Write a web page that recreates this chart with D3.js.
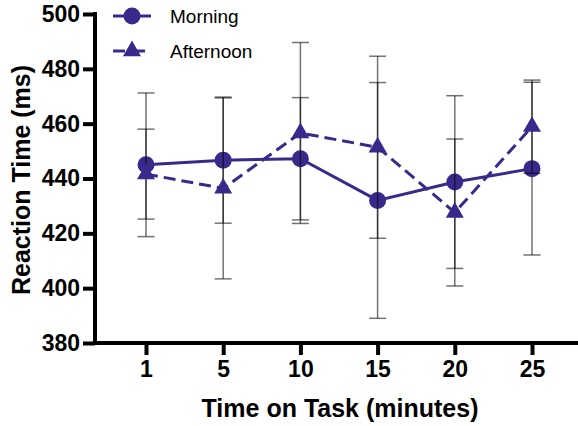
<!DOCTYPE html>
<html>
<head>
<meta charset="utf-8">
<script src="https://cdn.jsdelivr.net/npm/d3@7"></script>
<style>
  body { margin: 0; background: #fff; }
  svg { display: block; font-family: "Liberation Sans", Arial, sans-serif; }
</style>
</head>
<body>
<script>
// data
var times = ["1", "5", "10", "15", "20", "25"];
var seriesNames = ["Morning", "Afternoon"];
var morningMean = [445, 446.7, 447.2, 432, 438.7, 443.6];
var morningSD = [26.2, 23, 22.3, 43, 31.5, 31.5];
var afternoonMean = [441.6, 436.4, 456.6, 451.4, 427.6, 458.9];
var afternoonSD = [16.4, 33, 33, 33.2, 26.8, 17];
var yTicks = [380, 400, 420, 440, 460, 480, 500];

var svgWidth = 578;
var svgHeight = 426;
var purple = "#382a8b";

var svg = d3.select("body").append("svg")
  .attr("width", svgWidth)
  .attr("height", svgHeight);

var axisX = 95, axisY = 343;

var x = d3.scalePoint().domain(times).range([146, 532]);
var y = d3.scaleLinear().domain([380, 500]).range([axisY, 14]);

// y axis
var yAxis = svg.append("g")
  .attr("transform", "translate(" + axisX + ",0)")
  .call(d3.axisLeft(y).tickValues(yTicks).tickSize(12).tickSizeOuter(0).tickPadding(3));
yAxis.select(".domain").attr("stroke-width", 4).attr("d", "M0," + (axisY + 2) + "V" + 12);
yAxis.selectAll(".tick line").attr("stroke-width", 4);
yAxis.selectAll(".tick text")
  .attr("font-size", 23).attr("font-weight", "bold").attr("fill", "#000")
  .attr("font-family", "'Liberation Sans', Arial, sans-serif");

// x axis
var xAxis = svg.append("g")
  .attr("transform", "translate(0," + axisY + ")")
  .call(d3.axisBottom(x).tickSize(12).tickSizeOuter(0).tickPadding(6));
xAxis.select(".domain").attr("stroke-width", 4).attr("d", "M" + (axisX - 2) + ",0H" + svgWidth);
xAxis.selectAll(".tick line").attr("stroke-width", 4);
xAxis.selectAll(".tick text")
  .attr("font-size", 23).attr("font-weight", "bold").attr("fill", "#000")
  .attr("font-family", "'Liberation Sans', Arial, sans-serif");

// axis titles
svg.append("text")
  .attr("x", 340).attr("y", 417)
  .attr("text-anchor", "middle")
  .attr("font-size", 25).attr("font-weight", "bold")
  .text("Time on Task (minutes)");

svg.append("text")
  .attr("transform", "translate(30,180) rotate(-90)")
  .attr("text-anchor", "middle")
  .attr("font-size", 25).attr("font-weight", "bold")
  .text("Reaction Time (ms)");

var series = [
  { name: seriesNames[0], mean: morningMean, sd: morningSD, dash: null, shape: "circle" },
  { name: seriesNames[1], mean: afternoonMean, sd: afternoonSD, dash: "12,6", shape: "triangle" }
];

var line = d3.line()
  .x(function (d, i) { return x(times[i]); })
  .y(function (d) { return y(d); });

function drawMarker(g, shape, cx, cy) {
  if (shape == "circle") {
    g.append("circle").attr("cx", cx).attr("cy", cy).attr("r", 8.5).attr("fill", purple);
  } else {
    g.append("path")
      .attr("d", d3.symbol().type(d3.symbolTriangle).size(140)())
      .attr("transform", "translate(" + cx + "," + cy + ")")
      .attr("fill", purple);
  }
}

series.forEach(function (s) {
  var g = svg.append("g");
  // error bars
  s.mean.forEach(function (m, i) {
    var cx = x(times[i]);
    var eb = g.append("g").attr("stroke", "#000").attr("stroke-opacity", 0.55).attr("stroke-width", 1.5);
    eb.append("line").attr("x1", cx).attr("x2", cx).attr("y1", y(m - s.sd[i])).attr("y2", y(m + s.sd[i]));
    eb.append("line").attr("x1", cx - 8.5).attr("x2", cx + 8.5).attr("y1", y(m + s.sd[i])).attr("y2", y(m + s.sd[i]));
    eb.append("line").attr("x1", cx - 8.5).attr("x2", cx + 8.5).attr("y1", y(m - s.sd[i])).attr("y2", y(m - s.sd[i]));
  });
  g.append("path")
    .attr("d", line(s.mean))
    .attr("fill", "none")
    .attr("stroke", purple)
    .attr("stroke-width", 3)
    .attr("stroke-dasharray", s.dash);
  s.mean.forEach(function (m, i) {
    drawMarker(g, s.shape, x(times[i]), y(m));
  });
});

// legend
series.forEach(function (s, i) {
  var ly = 16 + i * 35;
  var lg = svg.append("g");
  lg.append("line")
    .attr("x1", 113).attr("x2", 151).attr("y1", ly).attr("y2", ly)
    .attr("stroke", purple).attr("stroke-width", 3)
    .attr("stroke-dasharray", s.dash ? "12,8" : null);
  drawMarker(lg, s.shape, 132, ly);
  lg.append("text")
    .attr("x", 170).attr("y", ly)
    .attr("dy", "0.35em")
    .attr("font-size", 19)
    .text(s.name);
});
</script>
</body>
</html>
